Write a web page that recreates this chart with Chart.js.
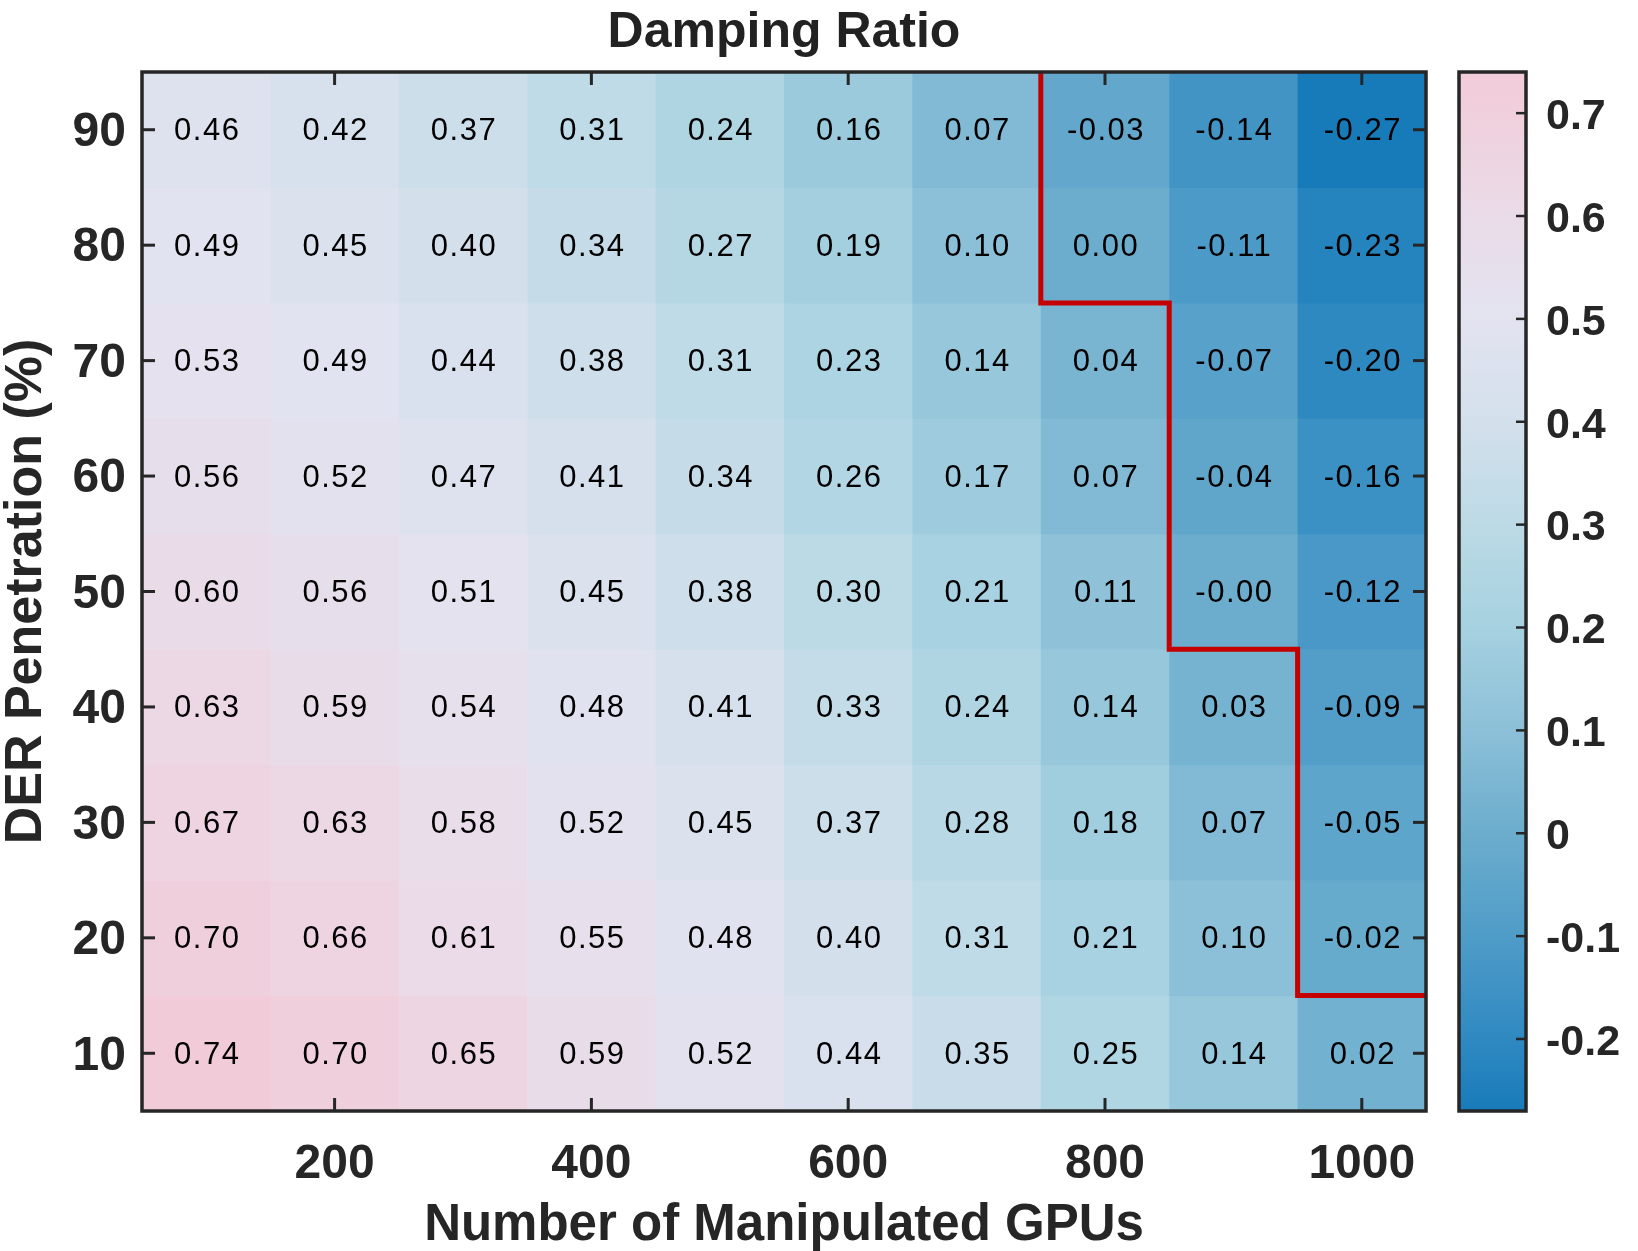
<!DOCTYPE html>
<html>
<head>
<meta charset="utf-8">
<title>Damping Ratio</title>
<script src="https://cdn.jsdelivr.net/npm/chart.js@4.4.1/dist/chart.umd.min.js"></script>
<style>
  body { margin: 0; background: #fff; }
  #wrap { width: 1638px; height: 1251px; position: relative; }
</style>
</head>
<body>
<div id="wrap"><canvas id="heatmap"></canvas></div>
<script>
var gpuCounts = [100, 200, 300, 400, 500, 600, 700, 800, 900, 1000]
var penetrations = [10, 20, 30, 40, 50, 60, 70, 80, 90]

// damping ratio, one row per DER penetration level
var zeta10 = [0.74, 0.70, 0.65, 0.59, 0.52, 0.44, 0.35, 0.25, 0.14, 0.02]
var zeta20 = [0.70, 0.66, 0.61, 0.55, 0.48, 0.40, 0.31, 0.21, 0.10, -0.02]
var zeta30 = [0.67, 0.63, 0.58, 0.52, 0.45, 0.37, 0.28, 0.18, 0.07, -0.05]
var zeta40 = [0.63, 0.59, 0.54, 0.48, 0.41, 0.33, 0.24, 0.14, 0.03, -0.09]
var zeta50 = [0.60, 0.56, 0.51, 0.45, 0.38, 0.30, 0.21, 0.11, -0.00, -0.12]
var zeta60 = [0.56, 0.52, 0.47, 0.41, 0.34, 0.26, 0.17, 0.07, -0.04, -0.16]
var zeta70 = [0.53, 0.49, 0.44, 0.38, 0.31, 0.23, 0.14, 0.04, -0.07, -0.20]
var zeta80 = [0.49, 0.45, 0.40, 0.34, 0.27, 0.19, 0.10, 0.00, -0.11, -0.23]
var zeta90 = [0.46, 0.42, 0.37, 0.31, 0.24, 0.16, 0.07, -0.03, -0.14, -0.27]
var zetaRows = [zeta10, zeta20, zeta30, zeta40, zeta50, zeta60, zeta70, zeta80, zeta90]

// stability boundary (zeta = 0) staircase
var boundaryX = [750, 750, 850, 850, 950, 950, 1050]
var boundaryY = [95, 75, 75, 45, 45, 15, 15]

var xTicks = [200, 400, 600, 800, 1000]
var yTicks = penetrations
var cbTicks = [-0.2, -0.1, 0, 0.1, 0.2, 0.3, 0.4, 0.5, 0.6, 0.7]

// colormap stops (value -> colour)
var cmap = [
    [-0.27, '#187bb9'],
    [-0.2, '#2f89c1'],
    [-0.1, '#4f9cc8'],
    [0.0, '#6cadcd'],
    [0.1, '#8cc0d8'],
    [0.2, '#a6d1e0'],
    [0.3, '#bcdae6'],
    [0.4, '#d3e0ec'],
    [0.5, '#e3e3f0'],
    [0.6, '#eadbe8'],
    [0.7, '#f0cfdc'],
    [0.74, '#f2cbd9']
]

var axisColor = '#262626'
var fontFam = '"Liberation Sans", Arial, Helvetica, sans-serif'

var allVals = [].concat.apply([], zetaRows)
var cbMin = Math.min.apply(null, allVals)
var cbMax = Math.max.apply(null, allVals)
var cellW = gpuCounts[1] - gpuCounts[0]
var cellH = penetrations[1] - penetrations[0]

function hexRgb(h) {
    return [parseInt(h.slice(1, 3), 16), parseInt(h.slice(3, 5), 16), parseInt(h.slice(5, 7), 16)]
}

function colorFor(v) {
    if (v <= cmap[0][0]) return cmap[0][1]
    for (var i = 1; i < cmap.length; i++) {
        if (v <= cmap[i][0]) {
            var t = (v - cmap[i - 1][0]) / (cmap[i][0] - cmap[i - 1][0])
            var a = hexRgb(cmap[i - 1][1]), b = hexRgb(cmap[i][1])
            var c = a.map((x, k) => Math.round(x + (b[k] - x) * t))
            return 'rgb(' + c.join(',') + ')'
        }
    }
    return cmap[cmap.length - 1][1]
}

function fmt(v) {
    var s = Math.abs(v).toFixed(2)
    return (v < 0 || Object.is(v, -0)) ? '-' + s : s
}

var heatData = []
penetrations.forEach((p, i) => {
    gpuCounts.forEach((g, j) => {
        heatData.push({x: g, y: p, v: zetaRows[i][j]})
    })
})

var boundaryData = boundaryX.map((x, i) => ({x: x, y: boundaryY[i]}))

function drawTickMarks(ctx, x0, y0, x1, y1) {
    ctx.beginPath()
    ctx.moveTo(x0, y0)
    ctx.lineTo(x1, y1)
    ctx.stroke()
}

// scales must not reserve extra room around the plot for their labels
function noEdgePadding(s) {
    s.paddingTop = 0
    s.paddingBottom = 0
    s.paddingLeft = 0
    s.paddingRight = 0
}

var heatPlugin = {
    id: 'heatCells',
    beforeDatasetsDraw(chart) {
        var ctx = chart.ctx, xs = chart.scales.x, ys = chart.scales.y
        var pts = chart.data.datasets[0].data
        ctx.save()
        pts.forEach(p => {
            var x0 = xs.getPixelForValue(p.x - cellW / 2), x1 = xs.getPixelForValue(p.x + cellW / 2)
            var y0 = ys.getPixelForValue(p.y + cellH / 2), y1 = ys.getPixelForValue(p.y - cellH / 2)
            ctx.fillStyle = colorFor(p.v)
            ctx.fillRect(x0, y0, x1 - x0 + 0.6, y1 - y0 + 0.6)
        })
        ctx.font = '31px ' + fontFam
        ctx.fillStyle = '#000'
        ctx.textAlign = 'center'
        ctx.textBaseline = 'middle'
        ctx.letterSpacing = '1.5px'
        pts.forEach(p => {
            ctx.fillText(fmt(p.v), xs.getPixelForValue(p.x) + 1, ys.getPixelForValue(p.y) + 2)
        })
        ctx.restore()
    },
    afterDraw(chart) {
        var ctx = chart.ctx, area = chart.chartArea
        var xs = chart.scales.x, ys = chart.scales.y, cb = chart.scales.cb
        var tl = 13
        ctx.save()
        ctx.strokeStyle = axisColor
        ctx.lineWidth = 3
        // inward ticks
        xTicks.forEach(v => {
            var px = xs.getPixelForValue(v)
            drawTickMarks(ctx, px, area.bottom, px, area.bottom - tl)
            drawTickMarks(ctx, px, area.top, px, area.top + tl)
        })
        yTicks.forEach(v => {
            var py = ys.getPixelForValue(v)
            drawTickMarks(ctx, area.left, py, area.left + tl, py)
            drawTickMarks(ctx, area.right, py, area.right - tl, py)
        })
        ctx.lineWidth = 3.5
        ctx.strokeRect(area.left, area.top, area.right - area.left, area.bottom - area.top)

        // colorbar
        var cbLeft = cb.left + 33, cbRight = cb.left + 100
        var top = cb.getPixelForValue(cbMax), bottom = cb.getPixelForValue(cbMin)
        var grad = ctx.createLinearGradient(0, bottom, 0, top)
        cmap.forEach(s => {
            var f = (s[0] - cbMin) / (cbMax - cbMin)
            grad.addColorStop(Math.max(0, Math.min(1, f)), s[1])
        })
        ctx.fillStyle = grad
        ctx.fillRect(cbLeft, top, cbRight - cbLeft, bottom - top)
        ctx.lineWidth = 2.5
        cbTicks.forEach(v => {
            var py = cb.getPixelForValue(v)
            drawTickMarks(ctx, cbRight, py, cbRight - 10, py)
        })
        ctx.lineWidth = 3.5
        ctx.strokeRect(cbLeft, top, cbRight - cbLeft, bottom - top)
        ctx.restore()
    }
}

var tickFont = {family: fontFam, size: 48, weight: 'bold'}

var chart = new Chart(document.querySelector('#heatmap'), {
    type: 'scatter',
    data: {
        datasets: [
            {
                label: 'Damping ratio',
                data: heatData,
                pointRadius: 0,
                pointHoverRadius: 0
            },
            {
                label: 'Stability boundary',
                data: boundaryData,
                showLine: true,
                borderColor: '#c40000',
                borderWidth: 5,
                pointRadius: 0,
                tension: 0,
                borderJoinStyle: 'miter'
            }
        ]
    },
    options: {
        responsive: true,
        maintainAspectRatio: false,
        animation: false,
        layout: {padding: 0},
        plugins: {
            legend: {display: false},
            tooltip: {enabled: false},
            title: {
                display: true,
                fullSize: false,
                text: 'Damping Ratio',
                color: '#222',
                font: {family: fontFam, size: 50, weight: 'bold', lineHeight: 1.2},
                padding: {top: 3, bottom: 9}
            }
        },
        scales: {
            x: {
                type: 'linear',
                position: 'bottom',
                min: gpuCounts[0] - cellW / 2,
                max: gpuCounts[gpuCounts.length - 1] + cellW / 2,
                afterBuildTicks: s => { s.ticks = xTicks.map(v => ({value: v})) },
                afterFit: s => { s.height = 140; noEdgePadding(s) },
                grid: {display: false, drawTicks: false},
                border: {display: false},
                ticks: {color: axisColor, font: tickFont, padding: 25, maxRotation: 0, callback: v => String(v)},
                title: {
                    display: true,
                    text: 'Number of Manipulated GPUs',
                    color: axisColor,
                    font: {family: fontFam, size: 51, weight: 'bold', lineHeight: 1},
                    padding: {top: 0, bottom: 0}
                }
            },
            y: {
                type: 'linear',
                position: 'left',
                min: penetrations[0] - cellH / 2,
                max: penetrations[penetrations.length - 1] + cellH / 2,
                afterBuildTicks: s => { s.ticks = yTicks.map(v => ({value: v})) },
                afterFit: s => { s.width = 142; noEdgePadding(s) },
                grid: {display: false, drawTicks: false},
                border: {display: false},
                ticks: {color: axisColor, font: tickFont, padding: 16, labelOffset: 3, callback: v => String(v)},
                title: {
                    display: true,
                    text: 'DER Penetration (%)',
                    color: axisColor,
                    font: {family: fontFam, size: 52, weight: 'bold', lineHeight: 1},
                    padding: {top: 1, bottom: 0}
                }
            },
            cb: {
                type: 'linear',
                axis: 'y',
                position: 'right',
                min: cbMin,
                max: cbMax,
                afterBuildTicks: s => { s.ticks = cbTicks.map(v => ({value: v})) },
                afterFit: s => { s.width = 212; noEdgePadding(s) },
                grid: {display: false, drawTicks: false},
                border: {display: false},
                ticks: {
                    color: axisColor,
                    font: {family: fontFam, size: 43, weight: 'bold'},
                    padding: 120,
                    labelOffset: 4,
                    callback: v => v === 0 ? '0' : (v < 0 ? '-' : '') + Math.abs(v).toFixed(1)
                }
            }
        }
    },
    plugins: [heatPlugin]
})
</script>
</body>
</html>
